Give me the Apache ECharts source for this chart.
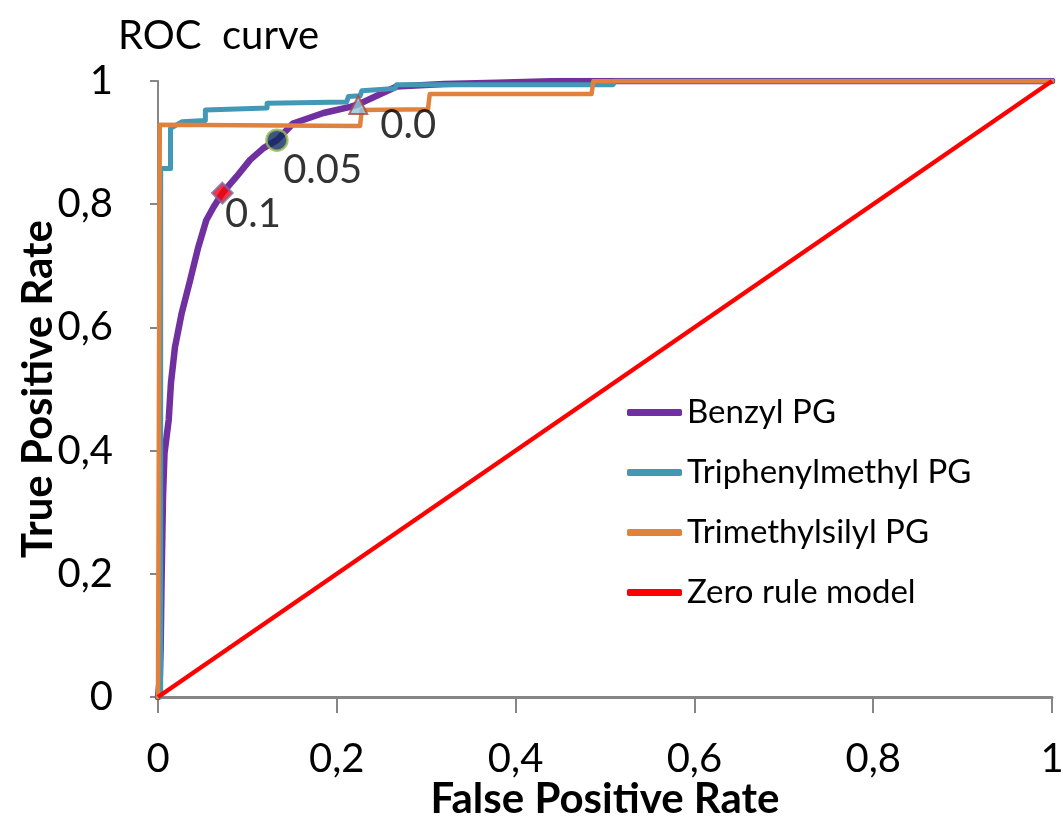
<!DOCTYPE html>
<html>
<head>
<meta charset="utf-8">
<script src="https://cdn.jsdelivr.net/npm/echarts@6/dist/echarts.min.js"></script>
<style>
  html, body { margin: 0; padding: 0; background: #fff; }
  #chart { width: 1063px; height: 821px; }
</style>
</head>
<body>
<div id="chart"></div>
<script>
// ROC curves
const benzylX = [0, 0.002, 0.003, 0.004, 0.0056, 0.0073, 0.012, 0.0145, 0.019, 0.0265, 0.036, 0.045, 0.054, 0.062, 0.072, 0.088, 0.103, 0.118, 0.133, 0.151, 0.185, 0.215, 0.224, 0.267, 0.32, 0.379, 0.45, 1]
const benzylY = [0, 0.03, 0.081, 0.19, 0.325, 0.396, 0.45, 0.51, 0.568, 0.623, 0.677, 0.73, 0.774, 0.795, 0.818, 0.845, 0.872, 0.891, 0.904, 0.931, 0.948, 0.958, 0.962, 0.991, 0.995, 0.997, 1, 1]

const tritylX = [0, 0.003, 0.003, 0.014, 0.014, 0.027, 0.053, 0.053, 0.122, 0.122, 0.211, 0.213, 0.226, 0.228, 0.265, 0.267, 0.509, 0.511, 1]
const tritylY = [0, 0, 0.858, 0.858, 0.923, 0.934, 0.936, 0.953, 0.956, 0.964, 0.966, 0.975, 0.976, 0.984, 0.988, 0.994, 0.994, 1, 1]

const tmsX = [0, 0.002, 0.226, 0.228, 0.302, 0.304, 0.485, 0.487, 1]
const tmsY = [0, 0.929, 0.927, 0.953, 0.954, 0.979, 0.979, 1, 1]

const zeroX = [0, 1]
const zeroY = [0, 1]

// threshold points on the benzyl curve
const thrLabels = ['0.1', '0.05', '0.0']
const thrX = [0.072, 0.133, 0.224]
const thrY = [0.818, 0.904, 0.961]

const tickFmt = v => String(v).replace('.', ',')
const pairs = (xs, ys) => xs.map((x, i) => [x, ys[i]])

const font = 'Lato, "Open Sans", sans-serif'
const chart = echarts.init(document.getElementById('chart'))

const markerStyles = [
  { symbol: 'diamond', symbolSize: 20, itemStyle: { color: '#ff0000', borderColor: '#7f62a0', borderWidth: 2.5 }, label: { position: [14, 32] } },
  { symbol: 'circle', symbolSize: 21, itemStyle: { color: '#0e2a5e', borderColor: '#9bbb59', borderWidth: 2.5 }, label: { position: [18, 42] } },
  { symbol: 'triangle', symbolSize: 18, itemStyle: { color: '#8dc8d8', borderColor: '#b0433f', borderWidth: 2 }, label: { position: [32, 30] } }
]

const option = {
  animation: false,
  textStyle: { fontFamily: font },
  title: {
    text: 'ROC  curve',
    left: 113,
    top: 11,
    textStyle: { fontFamily: font, fontSize: 40, fontWeight: 'normal', color: '#000' }
  },
  legend: {
    orient: 'vertical',
    left: 622,
    top: 391,
    itemWidth: 55,
    itemHeight: 7,
    itemGap: 27,
    icon: 'roundRect',
    data: ['Benzyl PG', 'Triphenylmethyl PG', 'Trimethylsilyl PG', 'Zero rule model'],
    textStyle: { fontFamily: font, fontSize: 33, color: '#000' }
  },
  grid: { left: 158, right: 11, top: 81, bottom: 124, containLabel: false, outerBoundsMode: 'none' },
  xAxis: {
    type: 'value',
    min: 0,
    max: 1,
    interval: 0.2,
    name: 'False Positive Rate',
    nameLocation: 'middle',
    nameGap: 81,
    nameMoveOverlap: false,
    nameTextStyle: { fontFamily: font, fontSize: 42, fontWeight: 'bold', color: '#000' },
    axisLine: { onZero: false, lineStyle: { color: '#868686', width: 3 } },
    axisTick: { length: 16, lineStyle: { color: '#868686', width: 2 } },
    axisLabel: { margin: 42, fontSize: 40, color: '#000', formatter: tickFmt },
    splitLine: { show: false }
  },
  yAxis: {
    type: 'value',
    min: 0,
    max: 1,
    interval: 0.2,
    name: 'True Positive Rate',
    nameLocation: 'middle',
    nameGap: 99,
    nameMoveOverlap: false,
    nameTextStyle: { fontFamily: font, fontSize: 42, fontWeight: 'bold', color: '#000' },
    axisLine: { show: true, onZero: false, lineStyle: { color: '#868686', width: 2 } },
    axisTick: { show: true, length: 8, lineStyle: { color: '#868686', width: 2 } },
    axisLabel: { margin: 45, fontSize: 40, color: '#000', formatter: tickFmt },
    splitLine: { show: false }
  },
  series: [
    {
      name: 'Benzyl PG', type: 'line', showSymbol: false, symbol: 'none',
      data: pairs(benzylX, benzylY),
      itemStyle: { color: '#7030a0' },
      lineStyle: { color: '#7030a0', width: 6.5, cap: 'round', join: 'round' }
    },
    {
      name: 'Triphenylmethyl PG', type: 'line', showSymbol: false, symbol: 'none',
      data: pairs(tritylX, tritylY),
      itemStyle: { color: '#4298b5' },
      lineStyle: { color: '#4298b5', width: 5, cap: 'round', join: 'round' }
    },
    {
      name: 'Trimethylsilyl PG', type: 'line', showSymbol: false, symbol: 'none',
      data: pairs(tmsX, tmsY),
      itemStyle: { color: '#e0823d' },
      lineStyle: { color: '#e0823d', width: 4.5, cap: 'round', join: 'round' }
    },
    {
      name: 'Zero rule model', type: 'line', showSymbol: false, symbol: 'none',
      data: pairs(zeroX, zeroY),
      itemStyle: { color: '#ff0000' },
      lineStyle: { color: '#ff0000', width: 4.5 }
    },
    {
      name: 'thresholds', type: 'scatter', z: 5,
      data: thrX.map((x, i) => Object.assign({ value: [x, thrY[i]], name: thrLabels[i] }, markerStyles[i])),
      label: {
        show: true,
        formatter: p => p.name,
        fontFamily: font,
        fontSize: 40,
        color: '#000',
        align: 'left',
        verticalAlign: 'middle'
      }
    }
  ]
}

chart.setOption(option)
window.addEventListener('resize', () => chart.resize())
</script>
</body>
</html>
